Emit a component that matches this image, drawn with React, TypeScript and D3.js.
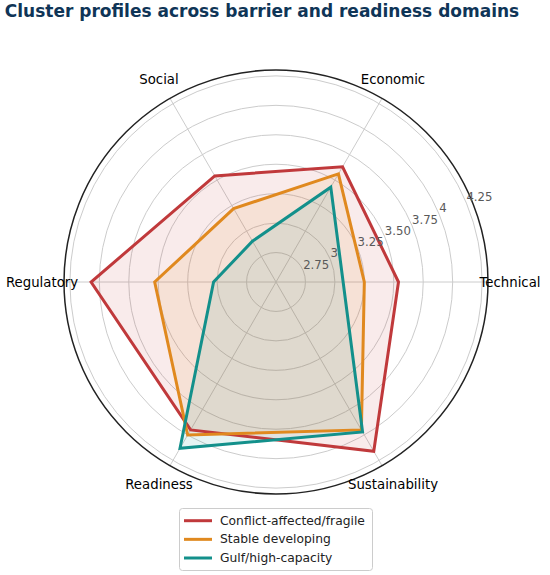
import * as d3 from "d3";

// domains, counter-clockwise from the right
const domains = ["Technical", "Economic", "Social", "Regulatory", "Readiness", "Sustainability"];
const clusters = ["Conflict-affected/fragile", "Stable developing", "Gulf/high-capacity"];
const conflictScores = [3.54, 3.63, 3.54, 4.07, 3.95, 4.16];
const stableScores = [3.25, 3.56, 3.22, 3.53, 4.0, 3.95];
const gulfScores = [3.07, 3.43, 2.9, 3.03, 4.13, 3.97];
const rTicks = [2.75, 3, 3.25, 3.5, 3.75, 4, 4.25];
const rTickLabels = ["2.75", "3", "3.25", "3.50", "3.75", "4", "4.25"];

const series = [conflictScores, stableScores, gulfScores];
const colors = ["#c0393b", "#e0891f", "#13908b"];

const W = 550;
const H = 575;
const cx = 276;
const cy = 282;
const R = 212;

const r = d3.scaleLinear().domain([2.5, 4.3]).range([0, R]);
// d3 radial angle: clockwise from 12 o'clock
const ang = d3
  .scaleLinear()
  .domain([0, domains.length])
  .range([Math.PI / 2, Math.PI / 2 - 2 * Math.PI]);

const radar = d3
  .lineRadial<number>()
  .angle((_, i) => ang(i))
  .radius((d) => r(d))
  .curve(d3.curveLinearClosed);

const font = "DejaVu Sans, sans-serif";
const labelAngle = (22.5 * Math.PI) / 180;

export default function App() {
  return (
    <svg
      width={W}
      height={H}
      style={{ position: "absolute", left: 0, top: 0, background: "#fff" }}
      fontFamily={font}
    >
      <text
        x={262}
        y={17}
        textAnchor="middle"
        fontSize={17}
        fontWeight="bold"
        fill="#0f3557"
      >
        Cluster profiles across barrier and readiness domains
      </text>

      <g transform={`translate(${cx},${cy})`}>
        {rTicks.map((t) => (
          <circle key={t} r={r(t)} fill="none" stroke="#cccccc" strokeWidth={1} />
        ))}
        {domains.map((d, i) => {
          const a = ang(i);
          return (
            <line
              key={d}
              x1={0}
              y1={0}
              x2={R * Math.sin(a)}
              y2={-R * Math.cos(a)}
              stroke="#cccccc"
              strokeWidth={1}
            />
          );
        })}

        {series.map((s, k) => (
          <path key={"f" + k} d={radar(s) ?? ""} fill={colors[k]} fillOpacity={0.1} stroke="none" />
        ))}
        {series.map((s, k) => (
          <path
            key={"l" + k}
            d={radar(s) ?? ""}
            fill="none"
            stroke={colors[k]}
            strokeWidth={3}
            strokeLinejoin="miter"
          />
        ))}

        <circle r={R} fill="none" stroke="#222" strokeWidth={1.5} />

        {rTicks.map((t, i) => (
          <text
            key={t}
            x={r(t) * Math.cos(labelAngle)}
            y={-r(t) * Math.sin(labelAngle) - 2}
            fontSize={11.7}
            fill="#595959"
          >
            {rTickLabels[i]}
          </text>
        ))}

        {domains.map((d, i) => {
          const a = ang(i);
          return (
            <text
              key={d}
              x={234 * Math.sin(a)}
              y={-234 * Math.cos(a)}
              textAnchor="middle"
              dominantBaseline="central"
              fontSize={13.3}
              fill="#000"
            >
              {d}
            </text>
          );
        })}
      </g>

      <g>
        <rect x={179.5} y={508.5} width={193} height={62} rx={3} fill="#fff" stroke="#cccccc" />
        {clusters.map((c, k) => {
          const y = 520.7 + k * 18.65;
          return (
            <g key={c}>
              <line x1={184} x2={212} y1={y} y2={y} stroke={colors[k]} strokeWidth={3} />
              <text x={220} y={y} dominantBaseline="central" fontSize={12.3} fill="#222">
                {c}
              </text>
            </g>
          );
        })}
      </g>
    </svg>
  );
}
